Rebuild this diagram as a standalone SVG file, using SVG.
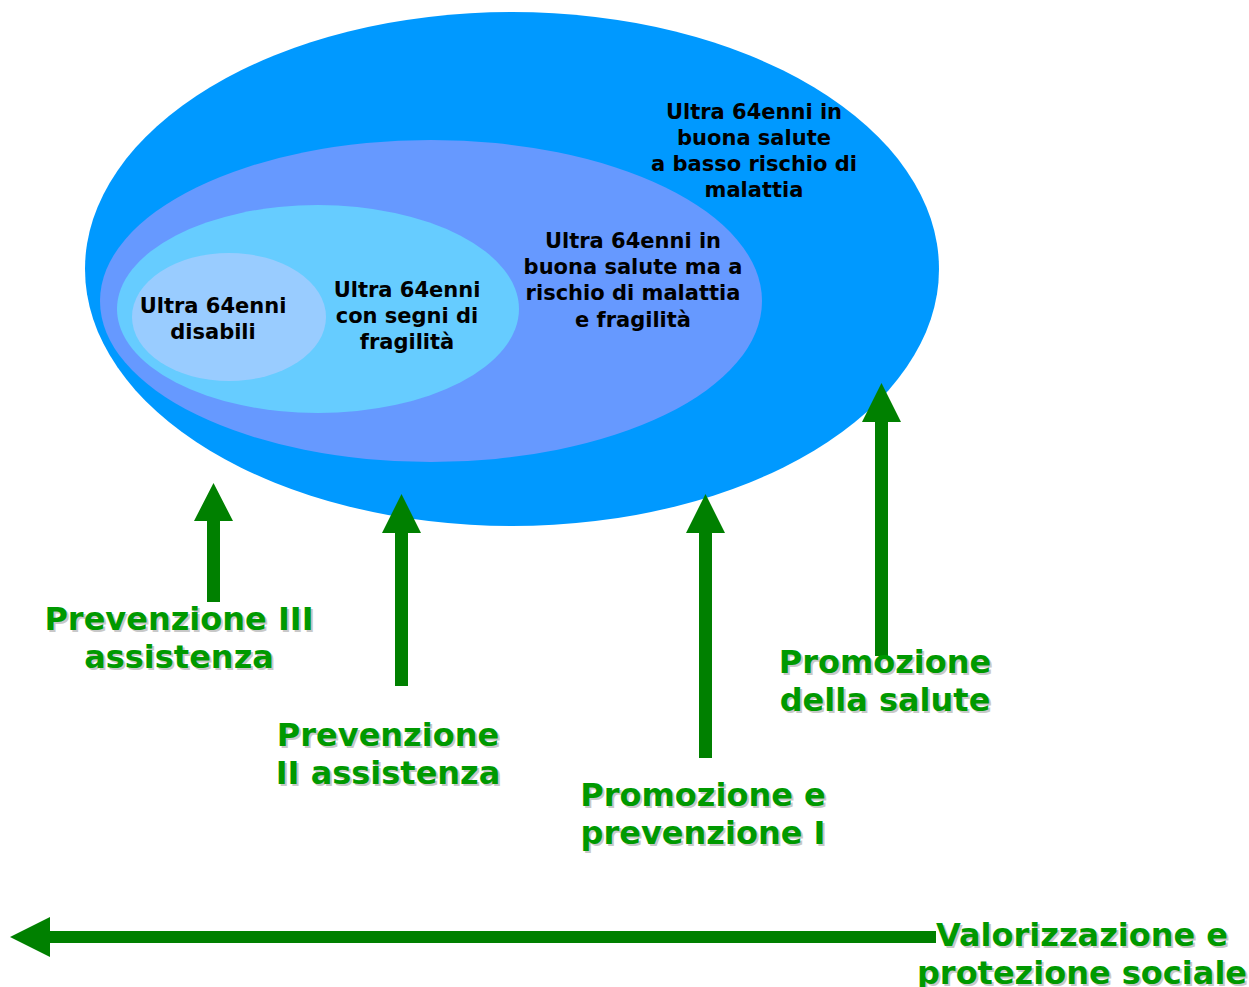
<svg xmlns="http://www.w3.org/2000/svg" width="1249" height="987" viewBox="0 0 1249 987">
<style>
.b{font-family:"DejaVu Sans","Liberation Sans",sans-serif;font-weight:bold;font-size:21px;fill:#000;text-anchor:middle}
.g{font-family:"DejaVu Sans","Liberation Sans",sans-serif;font-weight:bold;font-size:32px;fill:#009900;text-anchor:middle}
.s{font-family:"DejaVu Sans","Liberation Sans",sans-serif;font-weight:bold;font-size:32px;fill:#c8c8c8;text-anchor:middle}
.arr{fill:#008000}
</style>
<rect width="1249" height="987" fill="#fff"/>
<g id="n-outer"><ellipse cx="512" cy="269" rx="427" ry="257" fill="#0099FF"/>
<text class="b"><tspan x="754" y="119">Ultra 64enni in</tspan><tspan x="754" y="145">buona salute</tspan><tspan x="754" y="171">a basso rischio di</tspan><tspan x="754" y="197">malattia</tspan></text></g>
<g id="n-middle"><ellipse cx="431" cy="301" rx="331" ry="161" fill="#6699FF"/>
<text class="b"><tspan x="633" y="248">Ultra 64enni in</tspan><tspan x="633" y="274">buona salute ma a</tspan><tspan x="633" y="300">rischio di malattia</tspan><tspan x="633" y="327">e fragilità</tspan></text></g>
<g id="n-inner"><ellipse cx="318" cy="309" rx="201" ry="104" fill="#66CCFF"/>
<text class="b"><tspan x="407" y="297">Ultra 64enni</tspan><tspan x="407" y="323">con segni di</tspan><tspan x="407" y="349">fragilità</tspan></text></g>
<g id="n-core"><ellipse cx="229" cy="317" rx="97" ry="64" fill="#99CCFF"/>
<text class="b"><tspan x="213" y="313">Ultra 64enni</tspan><tspan x="213" y="339">disabili</tspan></text></g>
<g id="connectors">
<path class="arr" d="M207 602V521H194L213.5 483L233 521H220V602Z"/>
<path class="arr" d="M395 686V533H382L401.5 494L421 533H408V686Z"/>
<path class="arr" d="M699 758V533H686L705.5 494L725 533H712V758Z"/>
<path class="arr" d="M875 656V422H862L881.5 383L901 422H888V656Z"/>
<path class="arr" d="M936 931H50V917L10 937L50 957V943H936Z"/>
</g>
<g id="l1"><text class="s"><tspan x="181" y="632">Prevenzione III</tspan><tspan x="181" y="670">assistenza</tspan></text>
<text class="g"><tspan x="179" y="630">Prevenzione III</tspan><tspan x="179" y="668">assistenza</tspan></text></g>
<g id="l2"><text class="s"><tspan x="390" y="748">Prevenzione</tspan><tspan x="390" y="786">II assistenza</tspan></text>
<text class="g"><tspan x="388" y="746">Prevenzione</tspan><tspan x="388" y="784">II assistenza</tspan></text></g>
<g id="l3"><text class="s"><tspan x="705" y="808">Promozione e</tspan><tspan x="705" y="846">prevenzione I</tspan></text>
<text class="g"><tspan x="703" y="806">Promozione e</tspan><tspan x="703" y="844">prevenzione I</tspan></text></g>
<g id="l4"><text class="s"><tspan x="887" y="675">Promozione</tspan><tspan x="887" y="713">della salute</tspan></text>
<text class="g"><tspan x="885" y="673">Promozione</tspan><tspan x="885" y="711">della salute</tspan></text></g>
<g id="l5"><text class="s"><tspan x="1084" y="948">Valorizzazione e</tspan><tspan x="1084" y="986">protezione sociale</tspan></text>
<text class="g"><tspan x="1082" y="946">Valorizzazione e</tspan><tspan x="1082" y="984">protezione sociale</tspan></text></g>
</svg>
